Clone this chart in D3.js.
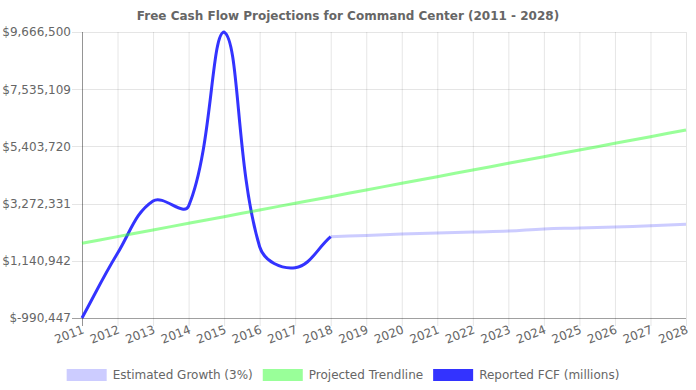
<!DOCTYPE html>
<html><head><meta charset="utf-8">
<script src="https://cdn.jsdelivr.net/npm/d3@7"></script>
<style>
body{margin:0;background:#fff}
svg{display:block}
text{font-family:"DejaVu Sans",Verdana,sans-serif}
</style>
</head><body>
<svg id="chart" width="696" height="390"></svg>
<script>
// ---- data ----
const years = [2011,2012,2013,2014,2015,2016,2017,2018,2019,2020,2021,2022,2023,2024,2025,2026,2027,2028];
const reportedFCF = [-990447,1420000,3370000,3180000,9666500,1666000,884000,2039000,null,null,null,null,null,null,null,null,null,null];
const projectedTrendline = [1793000,2041000,2290000,2538000,2786000,3035000,3283000,3531000,3780000,4028000,4276000,4525000,4773000,5021000,5270000,5518000,5766000,6015000];
const estimatedGrowth = [null,null,null,null,null,null,null,2039000,2085000,2135000,2175000,2215000,2250000,2330000,2360000,2400000,2445000,2500000];
const yTickValues = [-990447,1140942,3272331,5403720,7535109,9666500];
const yTickLabels = ["$-990,447","$1,140,942","$3,272,331","$5,403,720","$7,535,109","$9,666,500"];
const seriesNames = ["Estimated Growth (3%)","Projected Trendline","Reported FCF (millions)"];
const seriesColors = ["rgba(51,51,255,0.25)","rgba(51,255,51,0.5)","#3333ff"];
const legendColors = ["#ccccff","#99ff99","#3333ff"];
const titleText = "Free Cash Flow Projections for Command Center (2011 - 2028)";

// ---- layout ----
const W = 696, H = 390;
const area = {left:82, right:686, top:32, bottom:318};
const svg = d3.select("#chart");
const x = d3.scaleLinear().domain([years[0], years[years.length-1]]).range([area.left, area.right]);
const y = d3.scaleLinear().domain([yTickValues[0], yTickValues[yTickValues.length-1]]).range([area.bottom, area.top]);

// title
svg.append("text").attr("x", W/2).attr("y", 16).attr("text-anchor","middle")
  .attr("dominant-baseline","central").attr("font-size",12).attr("font-weight","bold")
  .attr("fill","#666").text(titleText);

// grid
const grid = svg.append("g");
grid.selectAll(".vg").data(years).enter().append("line")
  .attr("x1",d=>x(d)+0.5).attr("x2",d=>x(d)+0.5).attr("y1",area.top).attr("y2",area.bottom+8)
  .attr("stroke","rgba(0,0,0,0.1)");
grid.selectAll(".hg").data(yTickValues).enter().append("line")
  .attr("y1",d=>Math.round(y(d))+0.5).attr("y2",d=>Math.round(y(d))+0.5).attr("x1",area.left-10).attr("x2",area.right)
  .attr("stroke","rgba(0,0,0,0.1)");
// axis borders
svg.append("line").attr("x1",area.left+0.5).attr("x2",area.left+0.5).attr("y1",area.top).attr("y2",area.bottom+8).attr("stroke","rgba(0,0,0,0.35)");
svg.append("line").attr("x1",area.left-10).attr("x2",area.right).attr("y1",area.bottom+0.5).attr("y2",area.bottom+0.5).attr("stroke","rgba(0,0,0,0.3)");

// y axis labels
const yAxis = d3.axisLeft(y).tickValues(yTickValues).tickFormat((d,i)=>yTickLabels[i]).tickSize(0).tickPadding(0);
const gy = svg.append("g").attr("transform",`translate(${area.left-10},0)`).call(yAxis);
gy.select(".domain").remove();
gy.selectAll("text").attr("font-size",12).attr("fill","#666").attr("font-family","DejaVu Sans").attr("x",-1);

// x axis labels
const xAxis = d3.axisBottom(x).tickValues(years).tickFormat(d3.format("d")).tickSize(0).tickPadding(0);
const gx = svg.append("g").attr("transform",`translate(0,${area.bottom})`).call(xAxis);
gx.select(".domain").remove();
gx.selectAll("text").attr("font-size",12).attr("fill","#666").attr("font-family","DejaVu Sans")
  .attr("text-anchor","end").attr("dy",null).attr("y",0).attr("x",0)
  .attr("dominant-baseline","central")
  .attr("transform","translate(1,11) rotate(-21)");

// Chart.js-like spline curve
function splineCurve(t){
  return function(context){
    let pts;
    return {
      areaStart(){}, areaEnd(){},
      lineStart(){pts=[];},
      point(px,py){pts.push({x:+px,y:+py});},
      lineEnd(){
        const n=pts.length; if(!n) return;
        const cps = pts.map((p,i)=>{
          const prev = i>0?pts[i-1]:p, next = i<n-1?pts[i+1]:p;
          const d01=Math.hypot(p.x-prev.x,p.y-prev.y), d12=Math.hypot(next.x-p.x,next.y-p.y);
          let s01=d01/(d01+d12), s12=d12/(d01+d12);
          if(isNaN(s01)) s01=0; if(isNaN(s12)) s12=0;
          const fa=t*s01, fb=t*s12;
          const c={px:p.x-fa*(next.x-prev.x), py:p.y-fa*(next.y-prev.y),
                   nx:p.x+fb*(next.x-prev.x), ny:p.y+fb*(next.y-prev.y)};
          const cx=v=>Math.max(area.left,Math.min(area.right,v));
          const cy=v=>Math.max(area.top,Math.min(area.bottom,v));
          c.px=cx(c.px); c.nx=cx(c.nx); c.py=cy(c.py); c.ny=cy(c.ny);
          return c;
        });
        context.moveTo(pts[0].x,pts[0].y);
        for(let i=1;i<n;i++){
          context.bezierCurveTo(cps[i-1].nx,cps[i-1].ny,cps[i].px,cps[i].py,pts[i].x,pts[i].y);
        }
      }
    };
  };
}

const seriesData = [estimatedGrowth, projectedTrendline, reportedFCF];
const lineGen = d3.line().defined(d=>d.v!=null).x(d=>x(d.yr)).y(d=>y(d.v)).curve(splineCurve(0.4));
// draw last dataset first so first is on top (Chart.js order)
for(let s=seriesData.length-1;s>=0;s--){
  const pts = years.map((yr,i)=>({yr, v: seriesData[s][i]}));
  svg.append("path").attr("d",lineGen(pts)).attr("fill","none")
    .attr("stroke",seriesColors[s]).attr("stroke-width",3)
    .attr("stroke-linejoin","round").attr("stroke-linecap","butt");
}

// legend
const legend = svg.append("g");
const boxW = 40, fs = 12, pad = 10;
const items = seriesNames.map((name,i)=>{
  const g = legend.append("g");
  g.append("rect").attr("width",boxW).attr("height",fs).attr("fill",legendColors[i]);
  const t = g.append("text").attr("x",boxW+fs/2).attr("y",fs/2).attr("dominant-baseline","central")
    .attr("font-size",fs).attr("fill","#666").text(name);
  return {g, w: boxW + fs/2 + t.node().getComputedTextLength()};
});
const total = d3.sum(items, d=>d.w+pad);
let cx0 = (W-total)/2;
items.forEach(it=>{ it.g.attr("transform",`translate(${cx0},369)`); cx0 += it.w+pad; });
</script>
</body></html>
